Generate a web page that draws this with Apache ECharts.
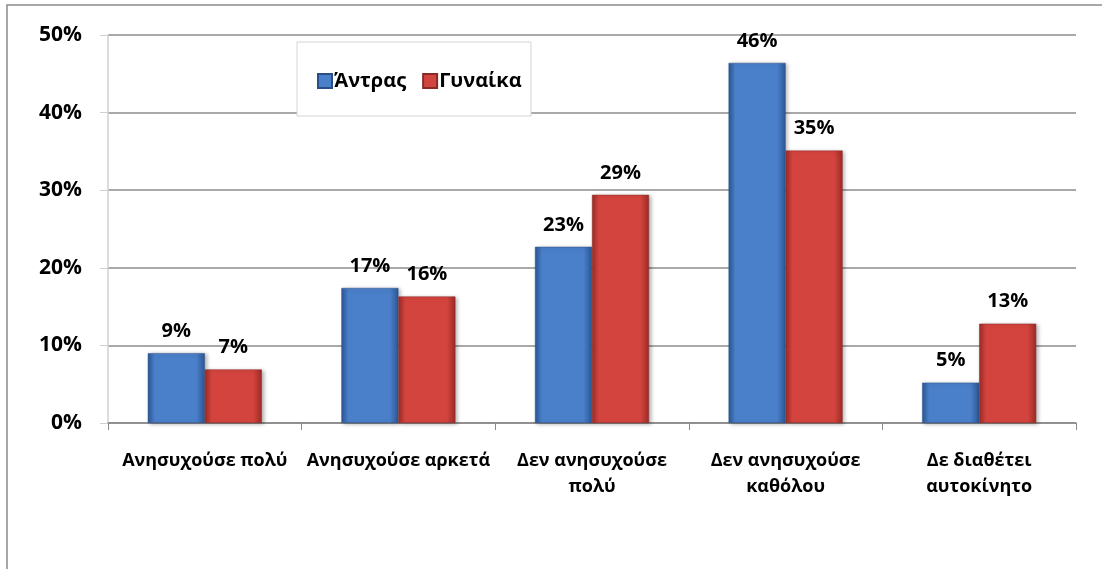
<!DOCTYPE html>
<html><head><meta charset="utf-8">
<script src="https://cdn.jsdelivr.net/npm/echarts@6/dist/echarts.min.js"></script>
<style>html,body{margin:0;padding:0;background:#fff}#c{width:1102px;height:569px}</style>
</head><body><div id="c"></div>
<script>
const categories = ['Ανησυχούσε πολύ', 'Ανησυχούσε αρκετά', 'Δεν ανησυχούσε\nπολύ', 'Δεν ανησυχούσε\nκαθόλου', 'Δε διαθέτει\nαυτοκίνητο'];
const seriesNames = ['Άντρας', 'Γυναίκα'];
const men = [9.0, 17.4, 22.7, 46.4, 5.2];
const women = [6.9, 16.3, 29.4, 35.1, 12.8];
const yTicks = [0, 10, 20, 30, 40, 50];

const FONT = '"Open Sans", sans-serif';
function grad(dark, light) {
  return new echarts.graphic.LinearGradient(0, 0, 1, 0, [
    {offset: 0, color: dark}, {offset: 0.12, color: light}, {offset: 0.85, color: light}, {offset: 1, color: dark}
  ]);
}
const chart = echarts.init(document.getElementById('c'), null, {renderer: 'canvas'});
const labelCfg = {show: true, position: 'top', distance: 12, color: '#000', fontFamily: FONT, fontWeight: 'bold', fontSize: 20,
  formatter: p => Math.round(p.value) + '%'};
chart.setOption({
  animation: false,
  graphic: [
    {type: 'rect', shape: {x: 7, y: 5, width: 1200, height: 700}, style: {fill: 'none', stroke: '#8a8a8a', lineWidth: 1.5}, z: -10},
    {type: 'rect', shape: {x: 297, y: 42, width: 234, height: 74}, style: {fill: '#fff', stroke: '#d4d4d4', lineWidth: 1}, z: 5}
  ],
  legend: {
    left: 312, top: 66, itemWidth: 14, itemHeight: 14, itemGap: 16, icon: 'rect', z: 10,
    textStyle: {fontFamily: FONT, fontWeight: 'bold', fontSize: 20, color: '#000', padding: [0, 0, 0, -3]},
    data: seriesNames
  },
  grid: {left: 108, right: 26, top: 35, bottom: 146},
  xAxis: {
    type: 'category', data: categories,
    axisLine: {lineStyle: {color: '#888', width: 1.5}},
    axisTick: {show: true, length: 7, lineStyle: {color: '#888'}},
    axisLabel: {margin: 25, color: '#000', fontFamily: FONT, fontWeight: 'bold', fontSize: 18, lineHeight: 26, interval: 0}
  },
  yAxis: {
    type: 'value', min: 0, max: 50, interval: 10,
    axisLine: {show: true, lineStyle: {color: '#d0d0d0', width: 1.5}},
    axisTick: {show: true, length: 8, lineStyle: {color: '#d0d0d0'}},
    splitLine: {lineStyle: {color: '#8c8c8c', width: 1.5}},
    axisLabel: {margin: 26, color: '#000', fontFamily: FONT, fontWeight: 'bold', fontSize: 21,
      formatter: v => yTicks.includes(v) ? v + '%' : ''}
  },
  series: [
    {name: seriesNames[0], type: 'bar', data: men, barWidth: 57, barGap: '0%',
      itemStyle: {color: grad('#2b5797', '#4a7fc9'), borderColor: '#2a4f86', borderWidth: 0.5,
        shadowColor: 'rgba(0,0,0,0.3)', shadowBlur: 4, shadowOffsetX: 2, shadowOffsetY: 1},
      label: labelCfg},
    {name: seriesNames[1], type: 'bar', data: women, barWidth: 57,
      itemStyle: {color: grad('#9c2b27', '#d4443e'), borderColor: '#8a2a26', borderWidth: 0.5,
        shadowColor: 'rgba(0,0,0,0.3)', shadowBlur: 4, shadowOffsetX: 2, shadowOffsetY: 1},
      label: labelCfg}
  ]
});
</script></body></html>
